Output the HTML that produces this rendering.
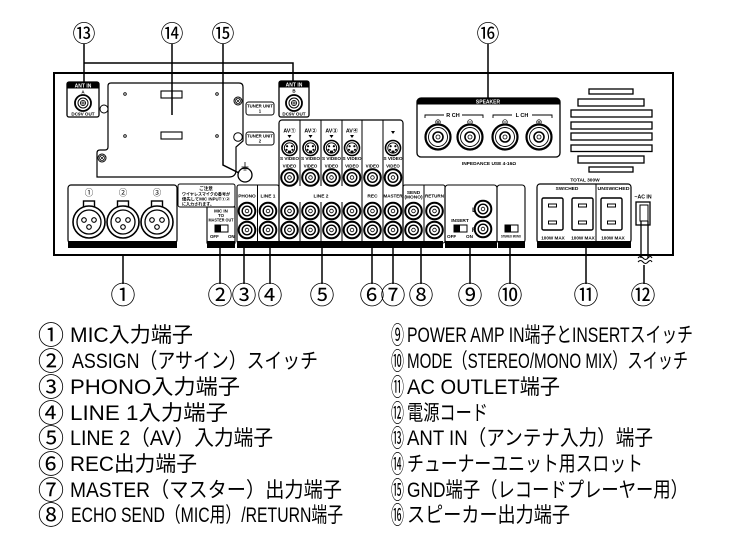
<!DOCTYPE html>
<html><head><meta charset="utf-8"><title>Rear panel</title>
<style>
html,body{margin:0;padding:0;background:#fff;}
svg{display:block;}
text{font-family:"Liberation Sans","Noto Sans CJK JP",sans-serif;fill:#000;}
.b{font-weight:bold;}
.w{fill:#fff;font-weight:bold;}
.ln{stroke:#000;fill:none;}
.cn{font-family:"Noto Sans CJK JP","Liberation Sans",sans-serif;}
</style></head><body>
<svg width="740" height="555" viewBox="0 0 740 555" xmlns="http://www.w3.org/2000/svg">
<defs>
<g id="rca"><circle r="8.3" fill="#fff" stroke="#000" stroke-width="2"/><circle r="4.8" fill="none" stroke="#000" stroke-width="1.4"/><circle r="1.8" fill="none" stroke="#000" stroke-width="0.8"/></g>
<g id="sv"><circle r="7.5" fill="#fff" stroke="#000" stroke-width="1.6"/><circle r="5.2" fill="none" stroke="#000" stroke-width="0.9"/><circle cx="-2.4" cy="-1.8" r="1.1" fill="#000"/><circle cx="2.4" cy="-1.8" r="1.1" fill="#000"/><circle cx="-3" cy="1.8" r="1.1" fill="#000"/><circle cx="3" cy="1.8" r="1.1" fill="#000"/><rect x="-1.5" y="2.6" width="3" height="2.4" fill="#000"/></g>
<g id="xlr"><rect x="-5.5" y="-21" width="11" height="7" fill="#fff" stroke="#000" stroke-width="1.4"/><circle r="16" fill="#fff" stroke="#000" stroke-width="1.6"/><circle r="12" fill="none" stroke="#000" stroke-width="1.3"/><circle cx="-5" cy="-2" r="2.3" fill="none" stroke="#000" stroke-width="1.1"/><circle cx="5" cy="-2" r="2.3" fill="none" stroke="#000" stroke-width="1.1"/><circle cx="0" cy="5" r="2.3" fill="none" stroke="#000" stroke-width="1.1"/></g>
<g id="spk"><circle r="12.5" fill="#fff" stroke="#000" stroke-width="2.2"/><circle r="9.5" fill="none" stroke="#000" stroke-width="0.9"/><circle r="5" fill="none" stroke="#000" stroke-width="1.6"/><circle r="2" fill="none" stroke="#000" stroke-width="0.8"/></g>
<g id="outl"><rect x="0" y="0" width="21" height="32" rx="1.5" fill="#fff" stroke="#000" stroke-width="1.4"/><rect x="6.5" y="6" width="8" height="3" fill="none" stroke="#000" stroke-width="1"/><rect x="6.5" y="23" width="8" height="3" fill="none" stroke="#000" stroke-width="1"/></g>
<g id="scr"><circle r="4" fill="#fff" stroke="#000" stroke-width="1"/><circle r="2.6" fill="none" stroke="#000" stroke-width="0.7"/><path d="M-1.8 -1.8 L1.8 1.8 M1.8 -1.8 L-1.8 1.8" stroke="#000" stroke-width="0.7"/></g>
</defs>

<!-- main panel -->
<rect x="54" y="73" width="619" height="182" fill="none" stroke="#000" stroke-width="2"/>

<!-- tuner board -->
<path d="M97 177 L97 153 Q97 150 100 150 L105 150 Q108 150 108 147 L108 86 Q108 83 111 83 L239 83 Q243 83 243 87 L243 141 L236 147 L236 170 Q236 177 229 177 Z" class="ln" stroke-width="1.2"/>
<use href="#scr" x="102" y="158"/>
<use href="#scr" x="238" y="101"/>
<circle cx="125" cy="94" r="1.3" class="ln" stroke-width="0.9"/>
<circle cx="217" cy="94" r="1.3" class="ln" stroke-width="0.9"/>
<circle cx="125" cy="136" r="1.3" class="ln" stroke-width="0.9"/>
<circle cx="217" cy="136" r="1.3" class="ln" stroke-width="0.9"/>
<rect x="161" y="91" width="21" height="7" class="ln" stroke-width="1.1"/>
<rect x="161" y="132" width="21" height="7" class="ln" stroke-width="1.1"/>
<circle cx="238" cy="137" r="4.3" fill="#fff" stroke="#000" stroke-width="1"/>
<rect x="246" y="102" width="28" height="13" rx="2.5" class="ln" stroke-width="1"/>
<text x="260" y="107.5" font-size="4.3" class="b" text-anchor="middle">TUNER UNIT</text>
<text x="260" y="112.5" font-size="4.3" class="b" text-anchor="middle">1</text>
<rect x="246" y="132" width="28" height="13" rx="2.5" class="ln" stroke-width="1"/>
<text x="260" y="137.5" font-size="4.3" class="b" text-anchor="middle">TUNER UNIT</text>
<text x="260" y="142.5" font-size="4.3" class="b" text-anchor="middle">2</text>
<!-- GND -->
<circle cx="245" cy="175" r="7" fill="#fff" stroke="#000" stroke-width="1.3"/>
<path d="M245 162 V167 M241.5 167 H248.5 M242.5 168.5 H247.5 M243.5 170 H246.5" class="ln" stroke-width="0.8"/>

<!-- ANT IN 1 -->
<rect x="67" y="82" width="32" height="35" rx="2" fill="#fff" stroke="#000" stroke-width="1.3"/>
<path d="M67 88.5 V84 Q67 82 69 82 H97 Q99 82 99 84 V88.5 Z" fill="#000"/>
<text x="83" y="87.3" font-size="5" class="w" text-anchor="middle">ANT IN</text>
<text x="83" y="93.5" font-size="4.5" class="b" text-anchor="middle">A</text>
<circle cx="83" cy="103" r="8" fill="#fff" stroke="#000" stroke-width="1.8"/>
<circle cx="83" cy="103" r="5" class="ln" stroke-width="1"/>
<circle cx="83" cy="103" r="2.6" class="ln" stroke-width="0.8"/>
<path d="M80.4 103 H85.6 M83 100.4 V105.6" class="ln" stroke-width="0.7"/>
<text x="83" y="115.3" font-size="4.6" class="b" text-anchor="middle">DC9V OUT</text>
<circle cx="104" cy="109" r="4" fill="#fff" stroke="#000" stroke-width="1"/>

<!-- ANT IN 2 -->
<rect x="279" y="81" width="30" height="36" rx="2" fill="#fff" stroke="#000" stroke-width="1.3"/>
<path d="M279 87.5 V83 Q279 81 281 81 H307 Q309 81 309 83 V87.5 Z" fill="#000"/>
<text x="294" y="86.3" font-size="5" class="w" text-anchor="middle">ANT IN</text>
<text x="294" y="92.5" font-size="4.5" class="b" text-anchor="middle">B</text>
<circle cx="294" cy="103" r="8" fill="#fff" stroke="#000" stroke-width="1.8"/>
<circle cx="294" cy="103" r="5" class="ln" stroke-width="1"/>
<circle cx="294" cy="103" r="2.6" class="ln" stroke-width="0.8"/>
<path d="M291.4 103 H296.6 M294 100.4 V105.6" class="ln" stroke-width="0.7"/>
<text x="294" y="115.3" font-size="4.6" class="b" text-anchor="middle">DC9V OUT</text>

<!-- SPEAKER -->
<rect x="417" y="98" width="143" height="59" rx="4" fill="#fff" stroke="#000" stroke-width="1.3"/>
<path d="M417 104.5 V102 Q417 98 421 98 H556 Q560 98 560 102 V104.5 Z" fill="#000"/>
<text x="488" y="103.3" font-size="5" class="w" text-anchor="middle">SPEAKER</text>
<path d="M425 118 V115 H444 M462 115 H483 V118" class="ln" stroke-width="0.9"/>
<text x="453" y="117" font-size="5.5" class="b" text-anchor="middle">R CH</text>
<path d="M493 118 V115 H512 M532 115 H552 V118" class="ln" stroke-width="0.9"/>
<text x="522" y="117" font-size="5.5" class="b" text-anchor="middle">L CH</text>
<g class="ln" stroke-width="0.7">
<circle cx="438" cy="122" r="2.3"/><path d="M436.5 122 H439.5 M438 120.5 V123.5"/>
<circle cx="470" cy="122" r="2.3"/><path d="M468.5 122 H471.5"/>
<circle cx="505" cy="122" r="2.3"/><path d="M503.5 122 H506.5"/>
<circle cx="539" cy="122" r="2.3"/><path d="M537.5 122 H540.5 M539 120.5 V123.5"/>
</g>
<use href="#spk" x="438" y="137"/>
<use href="#spk" x="470" y="137"/>
<use href="#spk" x="505" y="137"/>
<use href="#spk" x="539" y="137"/>
<text x="489" y="165" font-size="4.8" class="b" text-anchor="middle">INPEDANCE USE 4-16Ω</text>

<!-- vents -->
<g class="ln" stroke-width="1.3">
<rect x="589" y="89" width="44" height="5"/>
<rect x="578" y="99" width="66" height="7"/>
<rect x="571" y="110" width="81" height="7"/>
<rect x="571" y="122" width="81" height="7"/>
<rect x="571" y="133" width="81" height="7"/>
<rect x="571" y="145" width="81" height="6.5"/>
<rect x="578" y="156" width="66" height="7"/>
<rect x="589" y="167" width="44" height="5"/>
</g>

<!-- MIC INPUT -->
<rect x="68" y="185" width="109" height="58" rx="3" class="ln" stroke-width="1.2"/>
<text x="89" y="195.5" font-size="8.5" class="cn" text-anchor="middle">①</text>
<text x="123" y="195.5" font-size="8.5" class="cn" text-anchor="middle">②</text>
<text x="157" y="195.5" font-size="8.5" class="cn" text-anchor="middle">③</text>
<use href="#xlr" x="89" y="222"/>
<use href="#xlr" x="123" y="222"/>
<use href="#xlr" x="157" y="222"/>

<!-- notice -->
<rect x="178" y="184" width="57" height="23" rx="2" class="ln" stroke-width="1"/>
<text x="206" y="190" font-size="4.6" class="b" text-anchor="middle">ご注意</text>
<text x="206" y="195.3" font-size="4.2" class="b" text-anchor="middle" textLength="48" lengthAdjust="spacingAndGlyphs">ワイヤレスマイクの番号が</text>
<text x="206" y="200.3" font-size="4.2" class="b" text-anchor="middle" textLength="48" lengthAdjust="spacingAndGlyphs">優先してMIC INPUT①②</text>
<text x="182" y="205.3" font-size="4.2" class="b" textLength="32" lengthAdjust="spacingAndGlyphs">に入力されます。</text>

<!-- ASSIGN -->
<rect x="207" y="207" width="28" height="36" class="ln" stroke-width="1.1"/>
<text x="221" y="212.5" font-size="4.4" class="b" text-anchor="middle">MIC IN</text>
<text x="221" y="217" font-size="4.4" class="b" text-anchor="middle">TO</text>
<text x="221" y="221.5" font-size="4.4" class="b" text-anchor="middle" textLength="25" lengthAdjust="spacingAndGlyphs">MASTER OUT</text>
<rect x="215" y="225" width="13" height="7" class="ln" stroke-width="1"/>
<rect x="215" y="225" width="6" height="7" fill="#000"/>
<text x="210" y="238" font-size="4.4" class="b">OFF</text>
<text x="228" y="238" font-size="4.4" class="b">ON</text>

<!-- PHONO / LINE1 -->
<rect x="237" y="185" width="42" height="58" rx="2" class="ln" stroke-width="1.1"/>
<line x1="257.5" y1="185" x2="257.5" y2="241" class="ln" stroke-width="1"/>
<!-- AV block -->
<rect x="279" y="120" width="124" height="123" rx="3" class="ln" stroke-width="1.2"/>
<g class="ln" stroke-width="1">
<line x1="300" y1="120" x2="300" y2="186"/><line x1="321" y1="120" x2="321" y2="186"/><line x1="342" y1="120" x2="342" y2="186"/>
<line x1="300" y1="202" x2="300" y2="241"/><line x1="321" y1="202" x2="321" y2="241"/><line x1="342" y1="202" x2="342" y2="241"/>
<line x1="362" y1="120" x2="362" y2="241"/><line x1="383" y1="120" x2="383" y2="241"/>
</g>
<!-- SEND / RETURN -->
<rect x="403" y="185" width="42" height="58" rx="2" class="ln" stroke-width="1.1"/>
<line x1="424" y1="185" x2="424" y2="241" class="ln" stroke-width="1"/>

<g font-size="5.3" class="b" text-anchor="middle">
<text x="289.5" y="132.5">AV①</text><text x="310.5" y="132.5">AV②</text><text x="331.5" y="132.5">AV③</text><text x="352" y="132.5">AV④</text>
</g>
<g fill="#000">
<path d="M287.5 135 h4 l-2 3 z"/><path d="M308.5 135 h4 l-2 3 z"/><path d="M329.5 135 h4 l-2 3 z"/><path d="M350 135 h4 l-2 3 z"/><path d="M391 131 h4 l-2 3 z"/>
</g>
<use href="#sv" x="289.5" y="148"/><use href="#sv" x="310.5" y="148"/><use href="#sv" x="331.5" y="148"/><use href="#sv" x="352" y="148"/><use href="#sv" x="393" y="148"/>
<g font-size="4.4" class="b" text-anchor="middle">
<text x="289.5" y="160" textLength="19" lengthAdjust="spacingAndGlyphs">S VIDEO</text>
<text x="310.5" y="160" textLength="19" lengthAdjust="spacingAndGlyphs">S VIDEO</text>
<text x="331.5" y="160" textLength="19" lengthAdjust="spacingAndGlyphs">S VIDEO</text>
<text x="352" y="160" textLength="19" lengthAdjust="spacingAndGlyphs">S VIDEO</text>
<text x="393" y="160" textLength="19" lengthAdjust="spacingAndGlyphs">S VIDEO</text>
<text x="289.5" y="167.5">VIDEO</text><text x="310.5" y="167.5">VIDEO</text><text x="331.5" y="167.5">VIDEO</text><text x="352" y="167.5">VIDEO</text><text x="372.5" y="167.5">VIDEO</text><text x="393" y="167.5">VIDEO</text>
</g>
<use href="#rca" x="289.5" y="177.5"/><use href="#rca" x="310.5" y="177.5"/><use href="#rca" x="331.5" y="177.5"/><use href="#rca" x="352" y="177.5"/><use href="#rca" x="372.5" y="177.5"/><use href="#rca" x="393" y="177.5"/>

<g font-size="4.8" class="b" text-anchor="middle">
<text x="247" y="197.5">PHONO</text><text x="268" y="197.5">LINE 1</text><text x="321" y="197.5">LINE 2</text><text x="372.5" y="197.5">REC</text>
<text x="393" y="197.5" textLength="19" lengthAdjust="spacingAndGlyphs">MASTER</text>
<text x="413.5" y="194">SEND</text><text x="413.5" y="198.5">(MONO)</text>
<text x="434.5" y="197.5" textLength="19" lengthAdjust="spacingAndGlyphs">RETURN</text>
</g>
<g>
<use href="#rca" x="247" y="211"/><use href="#rca" x="268" y="211"/><use href="#rca" x="289.5" y="211"/><use href="#rca" x="310.5" y="211"/><use href="#rca" x="331.5" y="211"/><use href="#rca" x="352" y="211"/><use href="#rca" x="372.5" y="211"/><use href="#rca" x="393" y="211"/><use href="#rca" x="413.5" y="211"/><use href="#rca" x="434.5" y="211"/>
<use href="#rca" x="247" y="230"/><use href="#rca" x="268" y="230"/><use href="#rca" x="289.5" y="230"/><use href="#rca" x="310.5" y="230"/><use href="#rca" x="331.5" y="230"/><use href="#rca" x="352" y="230"/><use href="#rca" x="372.5" y="230"/><use href="#rca" x="393" y="230"/><use href="#rca" x="413.5" y="230"/><use href="#rca" x="434.5" y="230"/>
</g>

<!-- POWER AMP IN -->
<rect x="445" y="185" width="52" height="58" rx="3" class="ln" stroke-width="1.1"/>
<use href="#rca" x="483" y="209"/><use href="#rca" x="483" y="229"/>
<text x="474" y="212" font-size="6" class="b" text-anchor="middle">L</text>
<text x="474" y="232" font-size="6" class="b" text-anchor="middle">R</text>
<text x="460" y="222" font-size="4.8" class="b" text-anchor="middle">INSERT</text>
<rect x="454" y="225" width="13" height="7" class="ln" stroke-width="1"/>
<rect x="454" y="225" width="6" height="7" fill="#000"/>
<text x="447" y="238" font-size="4.6" class="b">OFF</text>
<text x="466" y="238" font-size="4.6" class="b">ON</text>

<!-- MODE -->
<rect x="497" y="185" width="28" height="58" rx="3" class="ln" stroke-width="1.1"/>
<rect x="505" y="225" width="13" height="7" class="ln" stroke-width="1"/>
<rect x="505" y="225" width="6" height="7" fill="#000"/>
<text x="511" y="237.5" font-size="3.4" class="b" text-anchor="middle" textLength="20" lengthAdjust="spacingAndGlyphs">STEREO  MONO</text>

<!-- AC OUTLET -->
<text x="585" y="181.5" font-size="4.8" class="b" text-anchor="middle">TOTAL 300W</text>
<rect x="537" y="184" width="94" height="59" rx="3" class="ln" stroke-width="1.2"/>
<line x1="596" y1="184" x2="596" y2="241" class="ln" stroke-width="1"/>
<text x="567" y="190" font-size="4.8" class="b" text-anchor="middle">SWICHED</text>
<text x="613.5" y="190" font-size="4.6" class="b" text-anchor="middle" textLength="32" lengthAdjust="spacingAndGlyphs">UNSWICHED</text>
<use href="#outl" x="542" y="198"/><use href="#outl" x="572" y="198"/><use href="#outl" x="601" y="198"/>
<text x="553" y="239.5" font-size="4.6" class="b" text-anchor="middle">100W MAX</text>
<text x="583" y="239.5" font-size="4.6" class="b" text-anchor="middle">100W MAX</text>
<text x="613" y="239.5" font-size="4.6" class="b" text-anchor="middle">100W MAX</text>

<!-- black label bands -->
<g fill="#000">
<rect x="68" y="241" width="109" height="7"/>
<rect x="207" y="241" width="28" height="7"/>
<rect x="237" y="241" width="206" height="7"/>
<rect x="445" y="241" width="52" height="7"/>
<rect x="498" y="241" width="27" height="7"/>
<rect x="537" y="241" width="94" height="7"/>
</g>
<g font-size="4.8" class="w" text-anchor="middle">
<text x="122" y="246.5">MIC INPUT</text>
<text x="221" y="246.5">ASSIGN</text>
<text x="258" y="246.5">INPUT</text>
<text x="320" y="246.5">INPUT</text>
<text x="382" y="246.5">OUTPUT</text>
<text x="424" y="246.5">LOCK</text>
<text x="471" y="246.5">POWER AMP IN</text>
<text x="511.5" y="246.5">MODE</text>
<text x="584" y="246.5">AC OUTLET</text>
</g>

<!-- AC IN -->
<text x="643" y="198.5" font-size="5.2" class="b" text-anchor="middle">~AC IN</text>
<rect x="636" y="202" width="14" height="23" fill="#fff" stroke="#000" stroke-width="1.3"/>
<rect x="640" y="205" width="8" height="16" class="ln" stroke-width="1"/>
<path d="M641 221 V258 M648 221 V258" class="ln" stroke-width="1.3"/>
<path d="M638 258 q2.5 -3 5 0 t5 0 t4 0 M638 262 q2.5 -3 5 0 t5 0 t4 0" class="ln" stroke-width="1"/>
<line x1="644" y1="265" x2="644" y2="284" class="ln" stroke-width="1.5"/>

<!-- top callout lines -->
<g class="ln" stroke-width="1.5">
<path d="M84 44 V82"/>
<path d="M84 63 H293 V81"/>
<path d="M172 44 V115"/>
<path d="M223 44 V165 L239 173"/>
<path d="M488 44 V98"/>
</g>
<!-- bottom callout lines -->
<g class="ln" stroke-width="1.5">
<path d="M123 255 V284"/>
<path d="M220 248 V284"/>
<path d="M244 248 V284"/>
<path d="M270 248 V284"/>
<path d="M322 248 V284"/>
<path d="M372 248 V284"/>
<path d="M393 248 V284"/>
<path d="M421 248 V284"/>
<path d="M470 248 V284"/>
<path d="M510 248 V284"/>
<path d="M586 248 V284"/>
</g>

<!-- callout numbers -->
<g font-size="23" text-anchor="middle">
<text x="84" y="41.3" class="cn">⑬</text>
<text x="172" y="41.3" class="cn">⑭</text>
<text x="223" y="41.3" class="cn">⑮</text>
<text x="488" y="41.3" class="cn">⑯</text>
</g>
<g font-size="25" text-anchor="middle">
<text x="123" y="304" class="cn">①</text>
<text x="220" y="304" class="cn">②</text>
<text x="244" y="304" class="cn">③</text>
<text x="270" y="304" class="cn">④</text>
<text x="322" y="304" class="cn">⑤</text>
<text x="372" y="304" class="cn">⑥</text>
<text x="393" y="304" class="cn">⑦</text>
<text x="421" y="304" class="cn">⑧</text>
<text x="470" y="304" class="cn">⑨</text>
<text x="510" y="304" class="cn">⑩</text>
<text x="586" y="304" class="cn">⑪</text>
<text x="643" y="304" class="cn">⑫</text>
</g>

<!-- legend numbers -->
<g font-size="26" text-anchor="middle">
<text x="51" y="344.3" class="cn">①</text>
<text x="51" y="370.3" class="cn">②</text>
<text x="51" y="396.3" class="cn">③</text>
<text x="51" y="422.3" class="cn">④</text>
<text x="51" y="447.3" class="cn">⑤</text>
<text x="51" y="473.3" class="cn">⑥</text>
<text x="51" y="499.3" class="cn">⑦</text>
<text x="51" y="524.3" class="cn">⑧</text>
</g>
<g font-size="24">
<text x="391" y="343.6" class="cn" textLength="13" lengthAdjust="spacingAndGlyphs">⑨</text>
<text x="391" y="369.6" class="cn" textLength="13" lengthAdjust="spacingAndGlyphs">⑩</text>
<text x="391" y="395.6" class="cn" textLength="13" lengthAdjust="spacingAndGlyphs">⑪</text>
<text x="391" y="421.6" class="cn" textLength="13" lengthAdjust="spacingAndGlyphs">⑫</text>
<text x="391" y="446.6" class="cn" textLength="13" lengthAdjust="spacingAndGlyphs">⑬</text>
<text x="391" y="472.6" class="cn" textLength="13" lengthAdjust="spacingAndGlyphs">⑭</text>
<text x="391" y="498.6" class="cn" textLength="13" lengthAdjust="spacingAndGlyphs">⑮</text>
<text x="391" y="523.6" class="cn" textLength="13" lengthAdjust="spacingAndGlyphs">⑯</text>
</g>

<!-- legend text -->
<g font-size="21">
<text x="70" y="342" textLength="123" lengthAdjust="spacingAndGlyphs">MIC入力端子</text>
<text x="72" y="368" textLength="246" lengthAdjust="spacingAndGlyphs">ASSIGN（アサイン）スイッチ</text>
<text x="70" y="394" textLength="170" lengthAdjust="spacingAndGlyphs">PHONO入力端子</text>
<text x="70" y="420" textLength="158" lengthAdjust="spacingAndGlyphs">LINE 1入力端子</text>
<text x="70" y="445" textLength="203" lengthAdjust="spacingAndGlyphs">LINE 2（AV）入力端子</text>
<text x="70" y="471" textLength="127" lengthAdjust="spacingAndGlyphs">REC出力端子</text>
<text x="70" y="497" textLength="272" lengthAdjust="spacingAndGlyphs">MASTER（マスター）出力端子</text>
<text x="71" y="522" textLength="272" lengthAdjust="spacingAndGlyphs">ECHO SEND（MIC用）/RETURN端子</text>

<text x="407" y="342" textLength="286" lengthAdjust="spacingAndGlyphs">POWER AMP IN端子とINSERTスイッチ</text>
<text x="407" y="368" textLength="281" lengthAdjust="spacingAndGlyphs">MODE（STEREO/MONO MIX）スイッチ</text>
<text x="407" y="394" textLength="153" lengthAdjust="spacingAndGlyphs">AC OUTLET端子</text>
<text x="407" y="420" textLength="81" lengthAdjust="spacingAndGlyphs">電源コード</text>
<text x="407" y="445" textLength="246" lengthAdjust="spacingAndGlyphs">ANT IN（アンテナ入力）端子</text>
<text x="407" y="471" textLength="236" lengthAdjust="spacingAndGlyphs">チューナーユニット用スロット</text>
<text x="407" y="497" textLength="281" lengthAdjust="spacingAndGlyphs">GND端子（レコードプレーヤー用）</text>
<text x="407" y="522" textLength="163" lengthAdjust="spacingAndGlyphs">スピーカー出力端子</text>
</g>
</svg>
</body></html>
